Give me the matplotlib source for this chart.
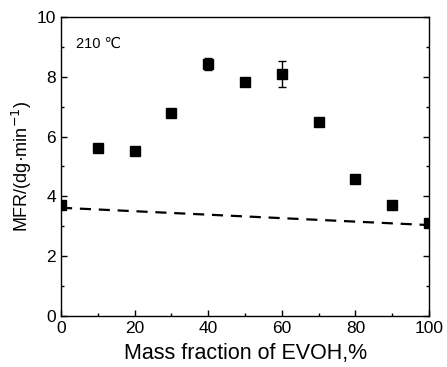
import matplotlib
matplotlib.use('Agg')
import matplotlib.pyplot as plt
from matplotlib.ticker import MultipleLocator

# Data
evoh = [0, 10, 20, 30, 40, 50, 60, 70, 80, 90, 100]
mfr = [3.70, 5.63, 5.53, 6.80, 8.43, 7.83, 8.10, 6.50, 4.57, 3.70, 3.10]
mfr_err = [0, 0, 0, 0, 0.20, 0, 0.43, 0, 0, 0, 0]

# additive (mixing rule) line
line_x = [0, 100]
line_y = [3.62, 3.04]

plt.rcParams['font.family'] = ['Liberation Sans', 'DejaVu Sans']

fig = plt.figure(figsize=(4.47, 3.67), dpi=100)
ax = fig.add_axes([0.1365, 0.139, 0.8235, 0.8147])

ax.plot(line_x, line_y, color='black', linestyle=(0, (5, 3.5)), linewidth=1.6)
ax.errorbar(evoh, mfr, yerr=mfr_err, fmt='s', color='black', markersize=6.5,
            ecolor='black', elinewidth=1, capsize=3, capthick=1)

ax.set_xlim(0, 100)
ax.set_ylim(0, 10)
ax.xaxis.set_major_locator(MultipleLocator(20))
ax.xaxis.set_minor_locator(MultipleLocator(10))
ax.yaxis.set_major_locator(MultipleLocator(2))
ax.yaxis.set_minor_locator(MultipleLocator(1))
ax.tick_params(which='both', direction='in', right=True, top=False,
               labelsize=12.5, width=1)
ax.tick_params(which='major', length=4)
ax.tick_params(which='minor', length=2.5)
for s in ax.spines.values():
    s.set_linewidth(1)

ax.set_xlabel('Mass fraction of EVOH,%', fontsize=15.5, labelpad=5)
ax.set_ylabel('MFR/(dg·min$^{-1}$)', fontsize=13, labelpad=2)
ax.text(0.04, 0.935, '210 ℃', transform=ax.transAxes, fontsize=10.5,
        va='top', ha='left')

fig.savefig('out.png', dpi=100)
